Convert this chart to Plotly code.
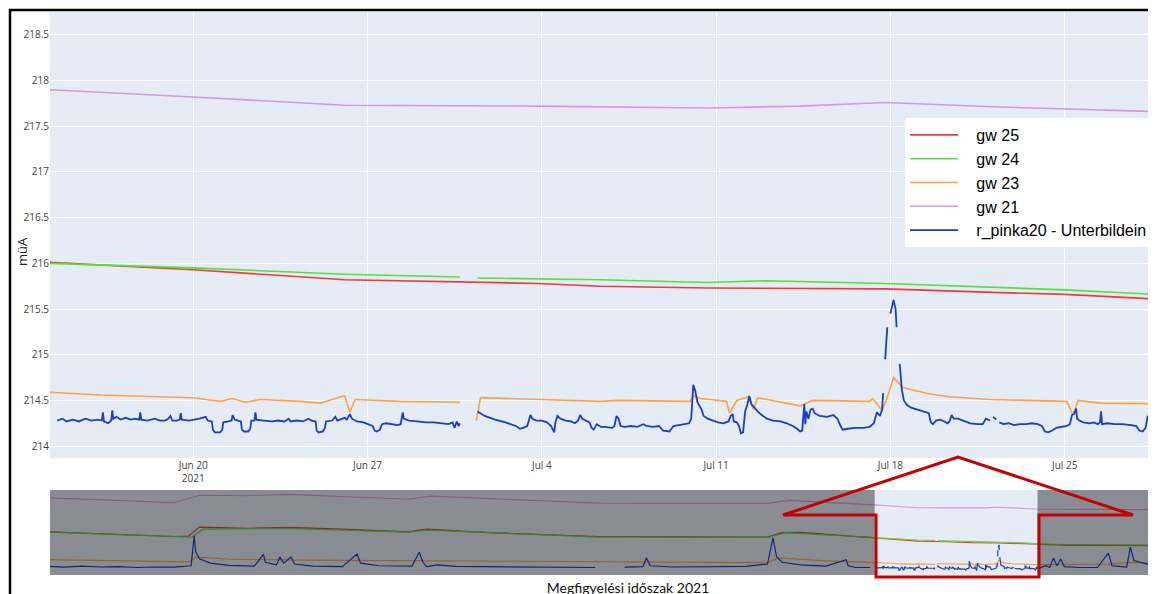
import pandas as pd
import plotly.graph_objects as go

WINDOW_START = pd.Timestamp("2021-06-14 00:00")

# ---------------- gw 25 (red) ----------------
gw25_before_dates = ["2020-11-01 06:00", "2020-12-05", "2020-12-09", "2020-12-12", "2020-12-25",
                     "2021-01-05", "2021-01-20", "2021-02-07", "2021-02-12", "2021-03-01",
                     "2021-03-31", "2021-05-16", "2021-05-20", "2021-05-25", "2021-06-05"]
gw25_before_vals = [216.35, 216.08, 216.10, 216.62, 216.55, 216.60, 216.50, 216.35, 216.50, 216.30,
                    216.08, 216.05, 216.30, 216.32, 216.15]
gw25_hours = [6, 144, 290, 476, 536, 640, 811, 922, 984, 1072]
gw25_vals = [216.01, 215.93, 215.82, 215.78, 215.75, 215.73, 215.72, 215.68, 215.66, 215.61]
gw25_after_dates = ["2021-08-05", "2021-08-30"]
gw25_after_vals = [215.58, 215.55]

# ---------------- gw 24 (green) ----------------
gw24_before_dates = ["2020-11-01 06:00", "2020-12-05", "2020-12-10", "2020-12-13", "2020-12-25",
                     "2021-01-05", "2021-02-07", "2021-02-12", "2021-03-31", "2021-05-16",
                     "2021-05-21", "2021-06-05"]
gw24_before_vals = [216.33, 216.05, 216.05, 216.50, 216.52, 216.55, 216.33, 216.45, 216.05, 216.03,
                    216.30, 216.12]
gw24_hours = [6, 144, 290, 401, 410, 418, 476, 536, 640, 668, 697, 811, 922, 984, 1072]
gw24_vals = [216.00, 215.95, 215.88, 215.85, None, 215.84, 215.83, 215.82, 215.79, 215.80, 215.81,
             215.78, 215.73, 215.71, 215.66]
gw24_after_dates = ["2021-08-05", "2021-08-30"]
gw24_after_vals = [215.62, 215.58]

# ---------------- gw 23 (orange) ----------------
gw23_before_dates = ["2020-11-01 06:00", "2020-11-20", "2020-12-09", "2020-12-11", "2020-12-20",
                     "2021-01-10", "2021-02-10", "2021-03-15", "2021-04-15", "2021-05-16",
                     "2021-05-19", "2021-06-01", "2021-06-13"]
gw23_before_vals = [214.75, 214.70, 214.62, 214.90, 214.78, 214.72, 214.68, 214.62, 214.60, 214.58,
                    214.85, 214.68, 214.60]
gw23_hours = [6, 54, 144, 170, 182, 194, 209, 247, 267, 286, 290, 295, 300, 343, 401, 410,
              417, 421, 478, 536, 555, 623, 626, 633, 658, 661, 668, 679, 684, 688, 729, 741,
              796, 799, 808, 812, 819, 828, 854, 873, 912, 986, 992, 997, 1018, 1072]
gw23_vals = [214.59, 214.56, 214.53, 214.49, 214.52, 214.48, 214.51, 214.49, 214.47, 214.54,
             214.55, 214.37, 214.51, 214.49, 214.48, None,
             214.28, 214.53, 214.51, 214.49, 214.50, 214.49, 214.55, 214.52, 214.49, 214.36,
             214.50, 214.54, 214.40, 214.53, 214.44, 214.50,
             214.49, 214.52, 214.39, 214.50, 214.75, 214.64, 214.57, 214.54, 214.51, 214.49,
             214.34, 214.50, 214.47, 214.46]
gw23_after_dates = ["2021-07-30", "2021-08-17", "2021-08-24", "2021-08-30"]
gw23_after_vals = [214.46, 214.50, 214.60, 214.52]

# ---------------- gw 21 (violet) ----------------
gw21_before_dates = ["2020-11-01 06:00", "2020-12-05", "2020-12-12", "2020-12-25", "2021-01-05",
                     "2021-02-07", "2021-02-13", "2021-03-31", "2021-05-16", "2021-05-22"]
gw21_before_vals = [218.30, 218.02, 218.45, 218.42, 218.50, 218.22, 218.40, 218.00, 217.98, 218.15]
gw21_hours = [6, 144, 290, 476, 640, 729, 811, 922, 1072]
gw21_vals = [217.90, 217.82, 217.73, 217.72, 217.70, 217.72, 217.76, 217.71, 217.66]
gw21_after_dates = ["2021-08-30"]
gw21_after_vals = [217.62]

# ---------------- r_pinka20 - Unterbildein (blue) ----------------
pinka_before_dates = ["2020-11-01 06:00", "2020-11-05", "2020-11-10", "2020-11-15", "2020-11-20",
                      "2020-11-25", "2020-11-30", "2020-12-05", "2020-12-09 18:00", "2020-12-10 06:00",
                      "2020-12-10 14:00", "2020-12-11", "2020-12-12", "2020-12-15", "2020-12-20",
                      "2020-12-27", "2020-12-29 12:00", "2020-12-30", "2021-01-02", "2021-01-03",
                      "2021-01-04", "2021-01-06", "2021-01-07", "2021-01-12", "2021-01-20",
                      "2021-01-24", "2021-01-25", "2021-01-30", "2021-02-08", "2021-02-10",
                      "2021-02-11", "2021-02-12", "2021-02-15", "2021-02-20", "2021-03-01",
                      "2021-03-10", "2021-03-20", "2021-03-30", "2021-03-31", "2021-04-07",
                      "2021-04-12", "2021-04-13", "2021-04-14", "2021-04-20", "2021-05-01",
                      "2021-05-10", "2021-05-16", "2021-05-17 12:00", "2021-05-18 12:00", "2021-05-20",
                      "2021-05-25", "2021-06-01", "2021-06-06 12:00", "2021-06-07", "2021-06-09",
                      "2021-06-13", "2021-06-14 04:00"]
pinka_before_vals = [214.36, 214.32, 214.38, 214.33, 214.35, 214.30, 214.33, 214.32, 214.40, 215.30,
                     216.10, 215.20, 214.80, 214.55, 214.42, 214.38, 215.05, 214.60, 214.45, 214.90,
                     214.55, 214.90, 214.50, 214.38, 214.35, 215.07, 214.55, 214.40, 214.38, 215.18,
                     214.60, 214.35, 214.45, 214.36, 214.34, 214.33, 214.32, 214.30, None, 214.32,
                     214.35, 214.84, 214.40, 214.33, 214.34, 214.36, 214.50, 216.00, 214.90, 214.60,
                     214.45, 214.38, 214.75, 214.40, 214.30, 214.30, None]
pinka_hours = [
    13, 18, 22, 28, 34, 40, 46, 52, 56, 57, 58, 62, 65, 66, 67, 70, 74, 79, 84, 88,
    92, 93, 94, 100, 107, 112, 117, 120, 122, 124, 128, 131, 132, 133, 140, 146,
    150, 156, 158, 162, 163, 165, 170, 172, 173, 178, 181, 182, 184, 187, 190, 191,
    193, 197, 199, 200, 203, 204, 205, 212, 220, 226, 232, 236, 238, 244, 250, 255,
    258, 262, 263, 265, 269, 271, 272, 278, 281, 283, 288, 290,
    292, 295, 297, 302, 308, 313, 317, 319, 321, 324, 326, 330, 336, 341, 344, 346,
    347, 352, 360, 368, 376, 384, 390, 394, 396, 398, 400, 401, 410,
    418, 425, 435, 445, 455, 459, 462, 466, 468, 469, 471, 475, 480, 485, 489, 491,
    492, 493, 495, 498, 503, 508, 512, 515, 517, 519, 523, 526, 528, 530,
    533, 537, 541, 545, 548, 550, 552, 554, 556, 560, 566, 572, 578, 581, 587, 593,
    597, 603, 607, 612, 617, 622, 624, 626, 628, 630, 632, 634, 636, 640, 645, 650,
    655, 660, 662, 664, 665, 668, 670, 672, 674, 676, 678, 680, 682, 684, 688, 692,
    697, 703, 710, 716, 722, 726, 729, 731, 733, 734, 735, 737, 739, 741, 743, 748,
    755, 761, 765, 768, 770, 775, 782, 790, 796, 800, 803, 806, 808, 809,
    810, 811, 813, 814, 816, 819, 821, 822, 823, 825, 827, 829, 832, 836, 842, 848,
    853, 855, 857, 860, 864, 868, 871, 873, 875, 877, 881, 886, 893, 900, 905, 908,
    911, 912, 913, 915, 918, 919, 921, 925, 930, 935, 941, 947, 952, 958, 962, 965,
    968, 972, 976, 981, 986, 989, 991, 993, 995, 996, 998, 1002, 1008, 1012, 1016, 1018,
    1019, 1020, 1025, 1032, 1040, 1048, 1053, 1056, 1059, 1062, 1064, 1066, 1068, 1072]
pinka_vals = [
    214.28, 214.30, 214.27, 214.29, 214.27, 214.30, 214.28, 214.29, 214.28, 214.37,
    214.27, 214.25, 214.28, 214.39, 214.30, 214.32, 214.29, 214.31, 214.29, 214.30,
    214.29, 214.37, 214.29, 214.28, 214.30, 214.28, 214.28, 214.30, 214.33, 214.28,
    214.28, 214.29, 214.36, 214.29, 214.28, 214.29,
    214.30, 214.32, 214.28, 214.27, 214.18, 214.15, 214.15, 214.18, 214.26, 214.27,
    214.28, 214.34, 214.29, 214.28, 214.27, 214.18,
    214.16, 214.16, 214.19, 214.28, 214.28, 214.37, 214.29, 214.28, 214.27, 214.28,
    214.27, 214.30, 214.27, 214.28, 214.27, 214.30,
    214.28, 214.27, 214.17, 214.15, 214.16, 214.20, 214.27, 214.28, 214.32, 214.28,
    214.30, 214.31,
    214.29, 214.35, 214.30, 214.27, 214.26, 214.24, 214.22, 214.17, 214.16, 214.18,
    214.24, 214.25, 214.24, 214.23, 214.24, 214.37,
    214.30, 214.28, 214.27, 214.26, 214.26, 214.25, 214.24, 214.26, 214.20, 214.27,
    214.22, 214.25, None,
    214.38, 214.33, 214.29, 214.26, 214.22, 214.19, 214.20, 214.22, 214.30, 214.34,
    214.30, 214.28, 214.28, 214.26, 214.22, 214.16,
    214.15, 214.25, 214.33, 214.30, 214.28, 214.27, 214.25, 214.28, 214.34, 214.30,
    214.28, 214.26, 214.20, 214.18,
    214.24, 214.21, 214.21, 214.20, 214.20, 214.22, 214.33, 214.30, 214.22, 214.21,
    214.22, 214.21, 214.24, 214.22, 214.21, 214.22,
    214.17, 214.16, 214.22, 214.23, 214.24, 214.25, 214.30, 214.67, 214.60, 214.48,
    214.44, 214.40, 214.33, 214.30, 214.28, 214.26,
    214.25, 214.27, 214.33, 214.35, 214.27, 214.26, 214.22, 214.14, 214.15, 214.38,
    214.45, 214.55, 214.46, 214.43, 214.38, 214.34,
    214.30, 214.28, 214.27, 214.25, 214.22, 214.19, 214.16, 214.17, 214.46, 214.24,
    214.38, 214.30, 214.40, 214.41, 214.36, 214.33,
    214.32, 214.34, 214.30, 214.22, 214.18, 214.19, 214.20, 214.20, 214.21, 214.25,
    214.37, 214.33, 214.40, 214.58,
    None, 214.95, 215.30, None, 215.45, 215.60, 215.50, 215.30, None, 214.90, 214.62,
    214.50, 214.45, 214.42, 214.40, 214.38,
    214.36, 214.26, 214.24, 214.28, 214.29, 214.27, 214.25, 214.27, 214.34, 214.30,
    214.30, 214.28, 214.25, 214.24, 214.24, 214.30,
    214.28, 214.28, None, 214.32, 214.29, None, 214.26, 214.24, 214.25, 214.23,
    214.24, 214.24, 214.25, 214.24, 214.22, 214.16,
    214.15, 214.17, 214.20, 214.21, 214.22, 214.24, 214.34, 214.35, 214.41, 214.30,
    214.28, 214.26, 214.25, 214.26, 214.24, 214.26,
    214.38, 214.24, 214.25, 214.24, 214.24, 214.23, 214.22, 214.17, 214.16, 214.20,
    214.33, 214.30, 214.27, 214.26]
pinka_after_dates = ["2021-07-29", "2021-07-31", "2021-08-01", "2021-08-02", "2021-08-03",
                     "2021-08-04", "2021-08-05", "2021-08-09", "2021-08-14", "2021-08-17",
                     "2021-08-18", "2021-08-22", "2021-08-23", "2021-08-24", "2021-08-30"]
pinka_after_vals = [214.25, 214.40, 214.30, 214.84, 214.40, 214.80, 214.35, 214.30, 214.30, 215.13,
                    214.40, 214.32, 215.47, 214.70, 214.35]

series_names = ["gw 25", "gw 24", "gw 23", "gw 21", "r_pinka20 - Unterbildein"]
series_colors = ["#f03a3a", "#55e03a", "#ffa245", "#dc96dc", "#1b3ec6"]

X_RANGE = ["2021-06-14 06:00", "2021-07-28 16:00"]
SLIDER_RANGE = ["2020-11-01 06:00", "2021-08-30"]
Y_RANGE = [213.87, 218.75]


def build(before_d, before_v, hours, vals, after_d, after_v):
    xs = list(pd.to_datetime(before_d, format="ISO8601")) + \
        list(WINDOW_START + pd.to_timedelta(hours, unit="h")) + \
        list(pd.to_datetime(after_d, format="ISO8601"))
    ys = list(before_v) + list(vals) + list(after_v)
    return xs, ys


data = [
    build(gw25_before_dates, gw25_before_vals, gw25_hours, gw25_vals, gw25_after_dates, gw25_after_vals),
    build(gw24_before_dates, gw24_before_vals, gw24_hours, gw24_vals, gw24_after_dates, gw24_after_vals),
    build(gw23_before_dates, gw23_before_vals, gw23_hours, gw23_vals, gw23_after_dates, gw23_after_vals),
    build(gw21_before_dates, gw21_before_vals, gw21_hours, gw21_vals, gw21_after_dates, gw21_after_vals),
    build(pinka_before_dates, pinka_before_vals, pinka_hours, pinka_vals, pinka_after_dates, pinka_after_vals),
]

NB = "\u00a0\u00a0\u00a0"  # gap between legend line sample and label

fig = go.Figure()
for (xs, ys), name, col in zip(data, series_names, series_colors):
    w = 1.8 if name.startswith("r_") else 1.6
    fig.add_trace(go.Scatter(x=xs, y=ys, mode="lines", name=NB + name,
                             line=dict(color=col, width=w), connectgaps=False,
                             xaxis="x", yaxis="y"))
for (xs, ys), name, col in zip(data, series_names, series_colors):
    fig.add_trace(go.Scatter(x=xs, y=ys, mode="lines", name=name, showlegend=False,
                             line=dict(color=col, width=1.2), connectgaps=False,
                             xaxis="x2", yaxis="y2", hoverinfo="skip"))

# page is offset by the 8px body margin -> figure is 8px smaller on each axis
OFF = 8
W, H = 1156 - OFF, 594 - OFF
ML, MR, MT, MB = 42, 0, 4, 19
PW, PH = W - ML - MR, H - MT - MB


def pxx(x):
    return (x - OFF - ML) / PW


def pyy(y):
    return (H - MB - (y - OFF)) / PH


MAIN_DOMAIN = [pyy(458), 1.0]
SLIDER_DOMAIN = [0.0, pyy(490)]

arrow_pts = [(876, 577), (876, 515), (783, 515), (958, 457), (1133, 515), (1039, 515), (1039, 577)]
path = "M " + " L ".join(f"{pxx(a):.5f},{pyy(b):.5f}" for a, b in arrow_pts) + " Z"

MASK = "rgba(0,0,0,0.4)"
shapes = [
    dict(type="rect", xref="x2", yref="paper", x0=SLIDER_RANGE[0], x1=X_RANGE[0],
         y0=SLIDER_DOMAIN[0], y1=SLIDER_DOMAIN[1], fillcolor=MASK, line=dict(width=0), layer="above"),
    dict(type="rect", xref="x2", yref="paper", x0=X_RANGE[1], x1=SLIDER_RANGE[1],
         y0=SLIDER_DOMAIN[0], y1=SLIDER_DOMAIN[1], fillcolor=MASK, line=dict(width=0), layer="above"),
    dict(type="path", xref="paper", yref="paper", path=path,
         line=dict(color="#c40000", width=3), layer="above"),
    dict(type="line", xref="paper", yref="paper", x0=pxx(10), x1=pxx(10), y0=pyy(9), y1=pyy(600),
         line=dict(color="black", width=2.5), layer="above"),
    dict(type="line", xref="paper", yref="paper", x0=pxx(9), x1=pxx(1170), y0=pyy(10), y1=pyy(10),
         line=dict(color="black", width=2.5), layer="above"),
]

fig.update_layout(
    width=W, height=H,
    margin=dict(l=ML, r=MR, t=MT, b=MB, autoexpand=False),
    template="plotly",
    paper_bgcolor="white",
    plot_bgcolor="#E5ECF6",
    showlegend=True,
    legend=dict(x=pxx(1152), xanchor="right", y=pyy(118), yanchor="top",
                bgcolor="white", borderwidth=0,
                font=dict(family="Liberation Sans, Arial", size=16, color="black"),
                itemwidth=48, tracegroupgap=0),
    shapes=shapes,
    annotations=[
        dict(text="müA", xref="paper", yref="paper", x=pxx(22), y=pyy(252),
             xanchor="center", yanchor="middle", showarrow=False, textangle=-90,
             font=dict(family="Open Sans", size=13, color="#222")),
        dict(text="Megfigyelési időszak 2021", xref="paper", yref="paper",
             x=pxx(628), y=pyy(587), xanchor="center", yanchor="middle", showarrow=False,
             bgcolor="white", width=196, height=20,
             font=dict(family="Lato, Open Sans", size=14, color="#111")),
    ],
    xaxis=dict(range=X_RANGE, type="date", domain=[0, 1], anchor="y",
               tick0="2021-06-20", dtick=7 * 24 * 3600 * 1000,
               tickfont=dict(size=10, color="#444"),
               gridcolor="white", showline=False, zeroline=False),
    yaxis=dict(range=Y_RANGE, domain=MAIN_DOMAIN, anchor="x", dtick=0.5, tick0=214,
               tickfont=dict(size=10, color="#444"),
               gridcolor="white", zeroline=False),
    xaxis2=dict(range=SLIDER_RANGE, type="date", domain=[0, 1], anchor="y2",
                showticklabels=False, showgrid=False, zeroline=False, ticks=""),
    yaxis2=dict(range=Y_RANGE, domain=SLIDER_DOMAIN, anchor="x2",
                showticklabels=False, showgrid=False, zeroline=False, ticks=""),
)

fig.write_html("out.html")
